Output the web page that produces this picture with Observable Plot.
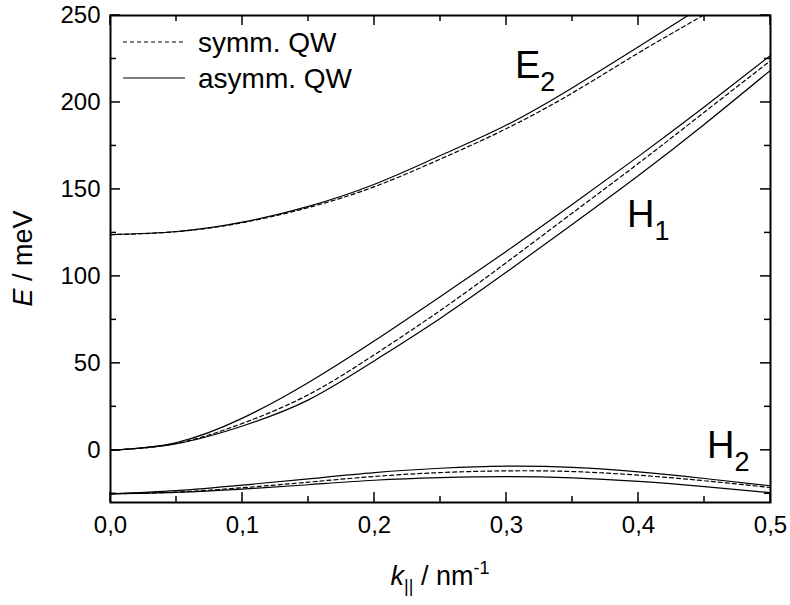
<!DOCTYPE html>
<html><head><meta charset="utf-8">
<script src="https://cdn.jsdelivr.net/npm/d3@7"></script>
<script src="https://cdn.jsdelivr.net/npm/@observablehq/plot@0.6"></script>
<style>
body{margin:0;background:#fff}
#chart svg{font-family:"Liberation Sans",Arial,sans-serif}
</style>
</head><body><div id="chart"></div>
<script>
// k grid (nm^-1)
const kGrid = [0, 0.05, 0.1, 0.15, 0.2, 0.25, 0.3, 0.35, 0.4, 0.45, 0.5];
const kE2 = [0, 0.05, 0.1, 0.15, 0.2, 0.25, 0.3, 0.35, 0.4, 0.45];

// E2 band (meV)
const e2Asym = [124, 125.8, 131.2, 140.3, 153, 169.5, 187, 208.5, 232, 256];
const e2Sym  = [124, 125.7, 130.9, 139.6, 151.6, 167.5, 185, 205.5, 228.5, 250.5];

// H1 band (meV)
const h1AsymUpper = [0, 4.5, 18.5, 39, 63, 88.5, 114.5, 141.5, 169, 197.5, 227];
const h1Sym       = [0, 4, 15.5, 32, 55, 80.5, 108, 136.5, 165, 194.5, 224];
const h1AsymLower = [0, 3.8, 14, 29, 51.5, 76, 102.5, 130, 158, 187.5, 218.5];

// H2 band (meV)
const h2AsymUpper = [-25, -23.2, -20, -16.4, -12.8, -10.3, -9.1, -9.8, -12.4, -16.2, -20.4];
const h2Sym       = [-25, -24, -21.5, -18.3, -15, -12.8, -11.8, -12.2, -14.3, -17.5, -21.4];
const h2AsymLower = [-25, -24.2, -22.3, -19.8, -17.2, -15.7, -15.1, -15.8, -17.9, -20.9, -24.4];

// axes
const xMajor = [0, 0.1, 0.2, 0.3, 0.4, 0.5];
const xMinor = [0.05, 0.15, 0.25, 0.35, 0.45];
const yMajor = [0, 50, 100, 150, 200, 250];
const yMinor = [-25, 25, 75, 125, 175, 225];

// legend and band labels
const legendLabels = ["symm. QW", "asymm. QW"];
const bandNames = ["E", "H", "H"];
const bandSubs = ["2", "1", "2"];
const bandK = [0.3068, 0.3917, 0.4523];
const bandE = [213.6, 128, -4.9];

const rows = (ks, es) => ks.map((k, i) => ({k, E: es[i]}));
const solidStyle = {x: "k", y: "E", stroke: "black", strokeWidth: 1.2, curve: "natural", clip: true};
const dashStyle = {...solidStyle, strokeDasharray: "4,3", strokeWidth: 1.2};

const fmtX = d => d.toFixed(1).replace(".", ",");
const fs = 24;

const chart = Plot.plot({
  width: 790, height: 605,
  marginLeft: 110, marginRight: 20, marginTop: 15, marginBottom: 103,
  style: {fontFamily: "'Liberation Sans', Arial, sans-serif", background: "white", color: "black"},
  x: {domain: [0, 0.5]},
  y: {domain: [-30, 250]},
  marks: [
    Plot.axisX({anchor: "bottom", ticks: xMajor, tickSize: 0, tickPadding: 13, tickFormat: fmtX, fontSize: fs, label: null}),
    Plot.axisY({anchor: "left", ticks: yMajor, tickSize: 0, tickPadding: 10, tickFormat: d => String(d), fontSize: fs, label: null}),
    Plot.line(rows(kE2, e2Sym), dashStyle),
    Plot.line(rows(kE2, e2Asym), solidStyle),
    Plot.line(rows(kGrid, h1Sym), dashStyle),
    Plot.line(rows(kGrid, h1AsymUpper), solidStyle),
    Plot.line(rows(kGrid, h1AsymLower), solidStyle),
    Plot.line(rows(kGrid, h2Sym), dashStyle),
    Plot.line(rows(kGrid, h2AsymUpper), solidStyle),
    Plot.line(rows(kGrid, h2AsymLower), solidStyle),
    Plot.frame({stroke: "black", strokeWidth: 2})
  ]
});
document.getElementById("chart").appendChild(chart);

const svg = d3.select(chart);
const sx = chart.scale("x"), sy = chart.scale("y");
const [x0, x1] = sx.range, [y0, y1] = sy.range; // y0 bottom, y1 top
const font = "'Liberation Sans', Arial, sans-serif";

// inward ticks on all four sides
const tg = svg.append("g").attr("stroke", "black").attr("stroke-width", 1.5);
const tick = (vals, len) => {
  vals.forEach(v => {
    const px = sx.apply(v);
    tg.append("line").attr("x1", px).attr("x2", px).attr("y1", y0).attr("y2", y0 - len);
    tg.append("line").attr("x1", px).attr("x2", px).attr("y1", y1).attr("y2", y1 + len);
  });
};
const tickY = (vals, len) => {
  vals.forEach(v => {
    const py = sy.apply(v);
    tg.append("line").attr("y1", py).attr("y2", py).attr("x1", x0).attr("x2", x0 + len);
    tg.append("line").attr("y1", py).attr("y2", py).attr("x1", x1).attr("x2", x1 - len);
  });
};
tick(xMajor, 10); tick(xMinor, 6);
tickY(yMajor, 10); tickY(yMinor, 6);

// band labels with subscripts
bandNames.forEach((n, i) => {
  const t = svg.append("text")
    .attr("x", sx.apply(bandK[i])).attr("y", sy.apply(bandE[i]))
    .attr("text-anchor", "start")
    .attr("font-family", font).attr("font-size", 38).attr("fill", "black");
  t.append("tspan").text(n);
  t.append("tspan").attr("font-size", 27).attr("dy", 13).text(bandSubs[i]);
});

// legend
const lg = svg.append("g").attr("font-family", font).attr("font-size", 28).attr("text-anchor", "start");
const legendY = [42, 78];
legendLabels.forEach((lab, i) => {
  lg.append("line").attr("x1", 123).attr("x2", 185).attr("y1", legendY[i]).attr("y2", legendY[i])
    .attr("stroke", "black").attr("stroke-width", 1.2)
    .attr("stroke-dasharray", i === 0 ? "4,3" : null);
  lg.append("text").attr("x", 198).attr("y", legendY[i] + 10).attr("fill", "black").text(lab);
});

// axis titles
const xt = svg.append("text").attr("x", (x0 + x1) / 2).attr("y", 585).attr("text-anchor", "middle")
  .attr("font-family", font).attr("font-size", 27).attr("fill", "black");
xt.append("tspan").attr("font-style", "italic").text("k");
xt.append("tspan").attr("font-size", 18).attr("dy", 7).text("||");
xt.append("tspan").attr("dy", -7).text(" / nm");
xt.append("tspan").attr("font-size", 18).attr("dy", -11).text("-1");

const yt = svg.append("text").attr("transform", `translate(32,${(y0 + y1) / 2}) rotate(-90)`)
  .attr("text-anchor", "middle").attr("font-family", font).attr("font-size", 27).attr("fill", "black");
yt.append("tspan").attr("font-style", "italic").text("E");
yt.append("tspan").text(" / meV");
</script>
</body></html>
